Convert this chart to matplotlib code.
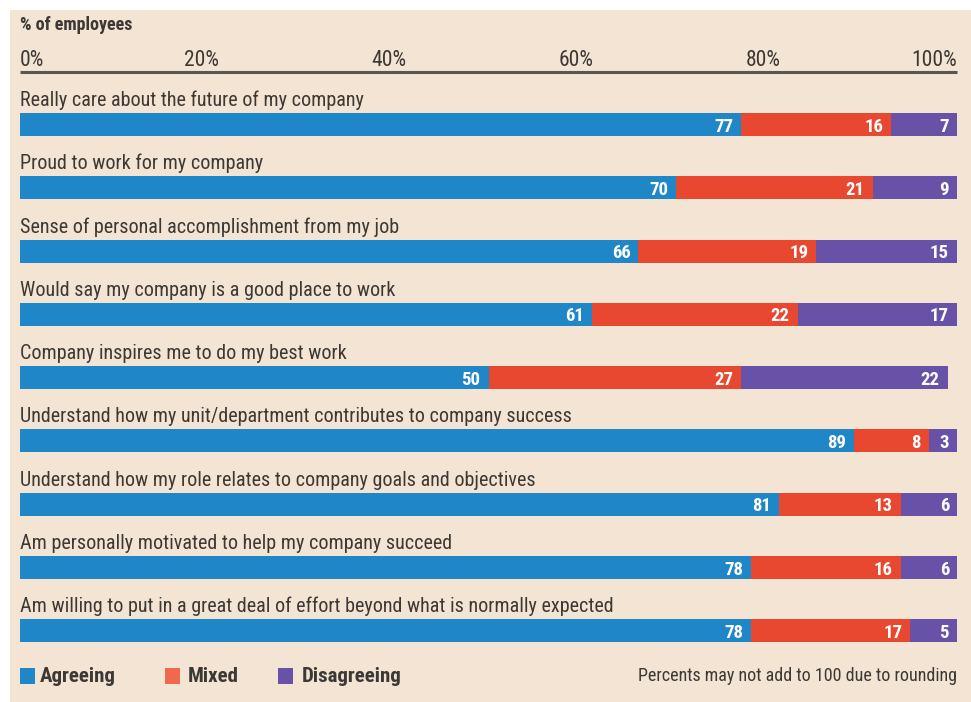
import matplotlib
matplotlib.use("Agg")
import matplotlib.pyplot as plt
from matplotlib import font_manager
from matplotlib.patches import Rectangle
from matplotlib.transforms import blended_transform_factory

# ---- data -------------------------------------------------------------
statements = [
    "Really care about the future of my company",
    "Proud to work for my company",
    "Sense of personal accomplishment from my job",
    "Would say my company is a good place to work",
    "Company inspires me to do my best work",
    "Understand how my unit/department contributes to company success",
    "Understand how my role relates to company goals and objectives",
    "Am personally motivated to help my company succeed",
    "Am willing to put in a great deal of effort beyond what is normally expected",
]
agreeing = [77, 70, 66, 61, 50, 89, 81, 78, 78]
mixed = [16, 21, 19, 22, 27, 8, 13, 16, 17]
disagreeing = [7, 9, 15, 17, 22, 3, 6, 6, 5]
series_names = ["Agreeing", "Mixed", "Disagreeing"]
tick_values = [0, 20, 40, 60, 80, 100]
tick_labels = ["0%", "20%", "40%", "60%", "80%", "100%"]

# ---- style ------------------------------------------------------------
available = {f.name for f in font_manager.fontManager.ttflist}
family = next((f for f in ["Roboto Condensed", "Liberation Sans Narrow",
                           "DejaVu Sans Condensed", "DejaVu Sans"] if f in available),
              "DejaVu Sans")
plt.rcParams["font.family"] = [family, "DejaVu Sans"]

BG = "#f3e4d3"
INK = "#3b3835"
COLORS = ["#1f86c8", "#e8482f", "#6752a7"]
LEGEND_COLORS = ["#1f86c8", "#f0684e", "#6752a7"]

W, H = 971, 702
fig = plt.figure(figsize=(W / 100, H / 100), dpi=100, facecolor="white")
fig.patches.append(Rectangle((10 / W, 0), 1, 1 - 10 / H, transform=fig.transFigure,
                             facecolor=BG, edgecolor="none", zorder=-10))

# axes spans 0..100 % horizontally, one unit per statement vertically
n = len(statements)
top_px, step_px = 124.5, 63.3
ax_top = top_px - step_px / 2
ax_bot = top_px + step_px * (n - 1) + step_px / 2
x0_px, x1_px = 20, 957
ax = fig.add_axes([x0_px / W, 1 - ax_bot / H, (x1_px - x0_px) / W,
                   (ax_bot - ax_top) / H])
ax.set_xlim(0, 100)
ax.set_ylim(n - 0.5, -0.5)
ax.axis("off")

bar_h = 23 / step_px
rows = list(range(n))
lefts = [0] * n
for vals, color in zip([agreeing, mixed, disagreeing], COLORS):
    ax.barh(rows, vals, left=lefts, height=bar_h, color=color, edgecolor="none")
    for r, v, l in zip(rows, vals, lefts):
        ax.annotate(str(v), (l + v, r), xytext=(-8, 0), textcoords="offset pixels",
                    ha="right", va="center_baseline", color="white",
                    fontsize=13.5, fontweight="bold")
    lefts = [l + v for l, v in zip(lefts, vals)]

for r, s in zip(rows, statements):
    ax.annotate(s, (0, r - bar_h / 2), xytext=(0, 7), textcoords="offset pixels",
                ha="left", va="baseline", color=INK, fontsize=14.5)

# axis scale drawn above the bars
bt = blended_transform_factory(ax.transData, fig.transFigure)
ax.plot([0, 100], [1 - 72 / H] * 2, transform=bt, color="#5a5652", lw=2.2,
        clip_on=False, solid_capstyle="butt")
for v, lab in zip(tick_values, tick_labels):
    ha = "left" if v == 0 else ("right" if v == 100 else "center")
    dx = 0 if v in (0, 100) else -6
    ax.annotate(lab, (v, 1 - 66 / H), xycoords=bt, xytext=(dx, 0),
                textcoords="offset pixels", ha=ha, va="baseline",
                color=INK, fontsize=15.5)

fig.text(20 / W, 1 - 30 / H, "% of employees", ha="left", va="baseline",
         color=INK, fontsize=13, fontweight="bold")

# legend
leg_y = 1 - 676 / H
for (x_sq, x_txt), name, c in zip([(20, 40), (165, 188), (278, 302)],
                                  series_names, LEGEND_COLORS):
    fig.patches.append(Rectangle((x_sq / W, leg_y - 8 / H), 15 / W, 16 / H,
                                 transform=fig.transFigure, facecolor=c,
                                 edgecolor="none"))
    fig.text(x_txt / W, leg_y, name, ha="left", va="center", color=INK,
             fontsize=15, fontweight="bold")

fig.text(957 / W, leg_y, "Percents may not add to 100 due to rounding",
         ha="right", va="center", color=INK, fontsize=13)

fig.savefig("out.png", dpi=100, facecolor=fig.get_facecolor())
